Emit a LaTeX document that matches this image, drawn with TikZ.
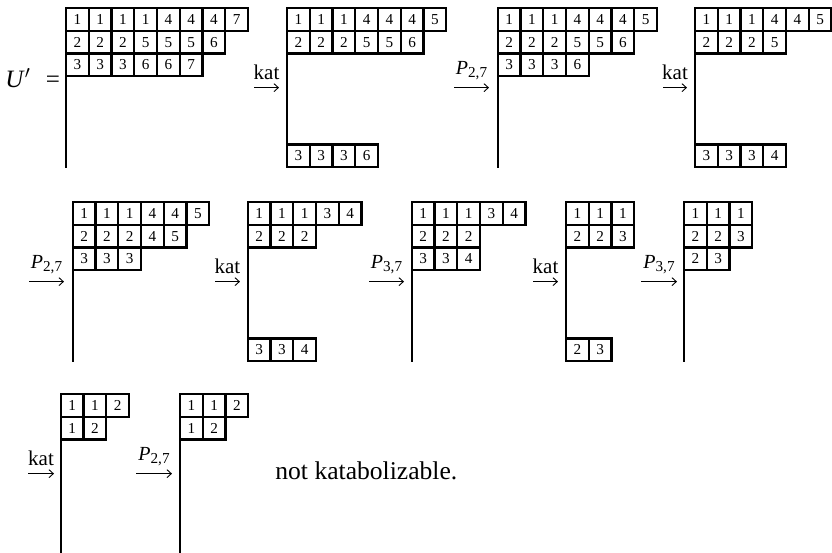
\documentclass[tikz,border=0pt]{standalone}
\usepackage{fontspec}
\setmainfont{Liberation Serif}
\usetikzlibrary{calc, arrows.meta}

% label of a P-move: italic P with a lowered index
\newcommand{\Pmap}[1]{{\fontsize{10}{12}\selectfont\textit{P}}\raisebox{-1.8pt}{\fontsize{7.6}{9}\selectfont #1}}

% tableau: name, top-left corner, rows given as rownumber/{entries}
\newcommand{\youngtab}[3]{%
  \coordinate (#1) at (#2);
  \draw[frame] (#1) -- ++(0,-7) coordinate (#1-bot);
  \foreach \r/\row in {#3} {
    \foreach \e [count=\c] in \row {
      \node[cell] (#1-\r-\c) at ($(#1)+(\c-0.5,0.5-\r)$) {\e};
    }
  }%
}

\begin{document}
\begin{tikzpicture}[
    x=0.4cm, y=0.4cm,
    % one box of a tableau
    cell/.style={rectangle, draw=black, line width=1.1pt, minimum size=0.4cm, inner sep=0pt, font=\fontsize{7.6}{9}\selectfont},
    % long left edge of a tableau
    frame/.style={line width=1.1pt, line cap=rect},
    % arrows between the tableaux
    maparrow/.style={-{Straight Barb[length=2.2pt,width=4pt]}, line width=0.45pt},
    maplabel/.style={midway, above, inner sep=3.5pt, font=\fontsize{10.5}{12}\selectfont}
]
    \useasboundingbox (0,0) rectangle (36.571,-24.264);

    % --- ROW 1 ---
    \node[anchor=base west, inner sep=0pt, font=\fontsize{12.5}{15}\selectfont] (lhs) at (0.22,-3.824) {\textit{U}$'$\hspace{0.6em}=};
    \youngtab{T1}{2.901,-0.352}{1/{1,1,1,1,4,4,4,7},2/{2,2,2,5,5,5,6},3/{3,3,3,6,6,7}}

    \coordinate (k1a) at (11.165,-3.852);
    \coordinate (k1b) at (12.264,-3.852);
    \draw[maparrow] (k1a) -- (k1b) node[maplabel] (k1) {kat};

    \youngtab{T2}{12.615,-0.352}{1/{1,1,1,4,4,4,5},2/{2,2,2,5,5,6},7/{3,3,3,6}}

    \coordinate (p1a) at (19.956,-3.852);
    \coordinate (p1b) at (21.495,-3.852);
    \draw[maparrow] (p1a) -- (p1b) node[maplabel] (p1) {\Pmap{2,7}};

    \youngtab{T3}{21.877,-0.352}{1/{1,1,1,4,4,4,5},2/{2,2,2,5,5,6},3/{3,3,3,6}}

    \coordinate (k2a) at (29.143,-3.852);
    \coordinate (k2b) at (30.198,-3.852);
    \draw[maparrow] (k2a) -- (k2b) node[maplabel] (k2) {kat};

    \youngtab{T4}{30.549,-0.352}{1/{1,1,1,4,4,5},2/{2,2,2,5},7/{3,3,3,4}}

    % --- ROW 2 ---
    \coordinate (p2a) at (1.275,-12.379);
    \coordinate (p2b) at (2.813,-12.379);
    \draw[maparrow] (p2a) -- (p2b) node[maplabel] (p2) {\Pmap{2,7}};

    \youngtab{T5}{3.196,-8.879}{1/{1,1,1,4,4,5},2/{2,2,2,4,5},3/{3,3,3}}

    \coordinate (k3a) at (9.451,-12.379);
    \coordinate (k3b) at (10.549,-12.379);
    \draw[maparrow] (k3a) -- (k3b) node[maplabel] (k3) {kat};

    \youngtab{T6}{10.888,-8.879}{1/{1,1,1,3,4},2/{2,2,2},7/{3,3,4}}

    \coordinate (p3a) at (16.220,-12.379);
    \coordinate (p3b) at (17.758,-12.379);
    \draw[maparrow] (p3a) -- (p3b) node[maplabel] (p3) {\Pmap{3,7}};

    \youngtab{T7}{18.097,-8.879}{1/{1,1,1,3,4},2/{2,2,2},3/{3,3,4}}

    \coordinate (k4a) at (23.429,-12.379);
    \coordinate (k4b) at (24.527,-12.379);
    \draw[maparrow] (k4a) -- (k4b) node[maplabel] (k4) {kat};

    \youngtab{T8}{24.879,-8.879}{1/{1,1,1},2/{2,2,3},7/{2,3}}

    \coordinate (p4a) at (28.176,-12.379);
    \coordinate (p4b) at (29.758,-12.379);
    \draw[maparrow] (p4a) -- (p4b) node[maplabel] (p4) {\Pmap{3,7}};

    \youngtab{T9}{30.066,-8.879}{1/{1,1,1},2/{2,2,3},3/{2,3}}

    % --- ROW 3 ---
    \coordinate (k5a) at (1.231,-20.819);
    \coordinate (k5b) at (2.374,-20.819);
    \draw[maparrow] (k5a) -- (k5b) node[maplabel] (k5) {kat};

    \youngtab{T10}{2.668,-17.319}{1/{1,1,2},2/{1,2}}

    \coordinate (p5a) at (5.978,-20.819);
    \coordinate (p5b) at (7.560,-20.819);
    \draw[maparrow] (p5a) -- (p5b) node[maplabel] (p5) {\Pmap{2,7}};

    \youngtab{T11}{7.912,-17.319}{1/{1,1,2},2/{1,2}}

    \node[anchor=base west, inner sep=0pt, font=\fontsize{12.8}{15}\selectfont] (verdict) at (12.088,-21.055) {not katabolizable.};

\end{tikzpicture}
\end{document}
